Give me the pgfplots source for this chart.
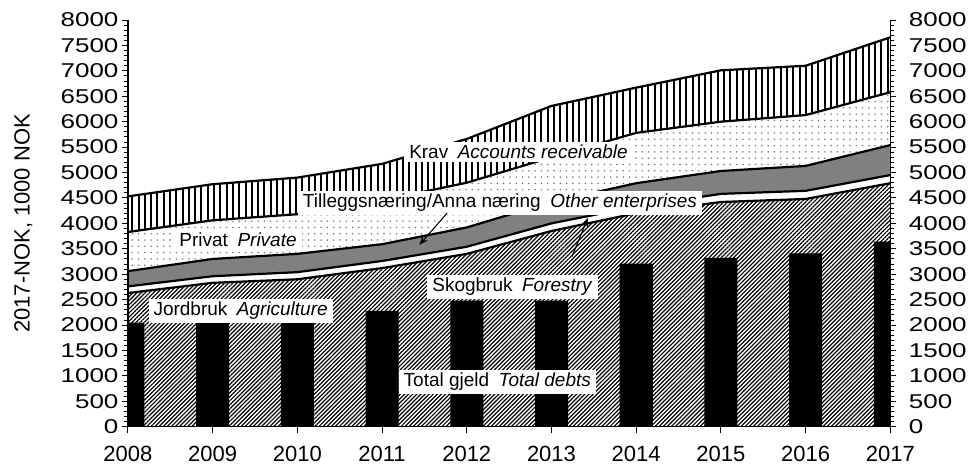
\documentclass[border=0pt]{standalone}
\usepackage{fontspec}
\setmainfont{Liberation Sans}
\newfontfamily\widefam{Liberation Sans}[FakeStretch=1.3]
\usepackage{pgfplots}
\usepackage{pgfplotstable}
\pgfplotsset{compat=1.18}
\usetikzlibrary{patterns.meta,arrows.meta}
\pgfplotsset{/pgf/number format/assume math mode=true, /pgf/number format/1000 sep={}}

\pgfplotstableread{
year agri forest other private total debt
2008 2630 2760 3060 3830 4530 2050
2009 2830 2960 3300 4060 4770 2050
2010 2900 3040 3400 4180 4900 2050
2011 3120 3260 3590 4450 5170 2280
2012 3400 3540 3920 4800 5660 2480
2013 3850 4000 4420 5300 6310 2480
2014 4200 4330 4790 5780 6670 3210
2015 4420 4580 5030 6000 7010 3320
2016 4480 4640 5130 6130 7100 3410
2017 4790 4950 5540 6580 7660 3640
}\data

\tikzset{lab/.style={fill=white, inner xsep=5pt, inner ysep=3pt, font=\fontsize{19}{22}\selectfont}}

\begin{document}
\begin{tikzpicture}
\path (-128pt,-40pt) rectangle (842pt,427pt);
\begin{axis}[
  at={(0,0)}, anchor=south west,
  scale only axis, width=763pt, height=407pt,
  xmin=2008, xmax=2017, ymin=0, ymax=8000,
  axis x line*=bottom, axis y line*=left,
  axis on top,
  xtick={2008,...,2017},
  ytick distance=500, minor y tick num=4,
  tick align=outside,
  major tick length=6pt, minor tick length=4pt,
  every tick/.style={black, line width=0.9pt},
  axis line style={line width=1.3pt},
  xticklabel style={font=\fontsize{22}{26}\selectfont, yshift=-10pt},
  yticklabel style={font=\widefam\fontsize{20}{24}\selectfont},
  ylabel={2017-NOK, 1000 NOK},
  ylabel style={at={(axis description cs:-0.137,0.5)}, anchor=center, font=\fontsize{22}{26}\selectfont},
]
% accounts receivable (total)
\addplot[draw=none, preaction={fill=white}, pattern={Lines[angle=90,distance=6.3pt,line width=2pt]}] table[x=year,y=total]{\data} \closedcycle;
\addplot[line width=2.2pt, black] table[x=year,y=total]{\data};
% private
\addplot[draw=none, preaction={fill=white}, pattern={Dots[distance=6.3pt,radius=0.85pt]}, pattern color=black!55] table[x=year,y=private]{\data} \closedcycle;
\addplot[line width=2.2pt, black] table[x=year,y=private]{\data};
% other enterprises
\addplot[draw=none, fill=gray] table[x=year,y=other]{\data} \closedcycle;
\addplot[line width=2.2pt, black] table[x=year,y=other]{\data};
% forestry
\addplot[draw=none, fill=white] table[x=year,y=forest]{\data} \closedcycle;
\addplot[line width=2.2pt, black] table[x=year,y=forest]{\data};
% agriculture
\addplot[draw=none, preaction={fill=white}, pattern={Lines[angle=45,distance=2.9pt,line width=1.2pt]}] table[x=year,y=agri]{\data} \closedcycle;
\addplot[line width=2.2pt, black] table[x=year,y=agri]{\data};
% total debts
\addplot[ybar, bar width=0.39, fill=black, draw=none] table[x=year,y=debt]{\data};

\node[lab] at (axis cs:2012.61,5407) {Krav\hspace{0.5em}\textit{Accounts receivable}};
\node[lab, anchor=west] at (axis cs:2010.005,4404) {Tilleggsnæring/Anna næring\hspace{0.5em}\textit{Other enterprises}\hspace{28pt}};
\node[lab] at (axis cs:2009.30,3676) {Privat\hspace{0.5em}\textit{Private}};
\node[lab] at (axis cs:2009.33,2281) {Jordbruk\hspace{0.5em}\textit{Agriculture}};
\node[lab] at (axis cs:2012.54,2752) {Skogbruk\hspace{0.5em}\textit{Forestry}};
\node[lab] at (axis cs:2012.36,885) {Total gjeld\hspace{0.5em}\textit{Total debts}};
\draw[line width=1pt, -{Stealth[length=9pt,width=7pt]}] (axis cs:2011.77,4207) -- (axis cs:2011.44,3578);
\draw[line width=1pt, -{Stealth[length=9pt,width=7pt]}] (axis cs:2013.24,3342) -- (axis cs:2013.43,4109);
\end{axis}
\begin{axis}[
  at={(0,0)}, anchor=south west,
  scale only axis, width=763pt, height=407pt,
  xmin=2008, xmax=2017, ymin=0, ymax=8000,
  axis x line=none, axis y line*=right,
  ytick distance=500, minor y tick num=4,
  tick align=outside,
  major tick length=6pt, minor tick length=4pt,
  every tick/.style={black, line width=0.9pt},
  axis line style={line width=1.3pt},
  yticklabel style={font=\widefam\fontsize{20}{24}\selectfont, xshift=9pt},
]
\end{axis}
\end{tikzpicture}
\end{document}
